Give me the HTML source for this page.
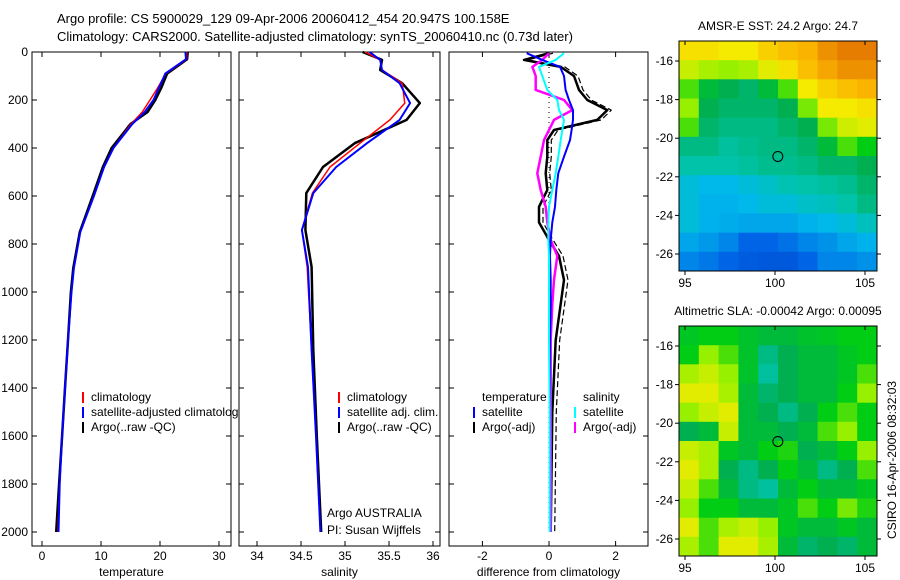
<!DOCTYPE html>
<html><head><meta charset="utf-8"><style>
body{margin:0;background:#fff;}
svg{display:block;font-family:"Liberation Sans",sans-serif;}
</style></head><body>
<svg id="c" width="900" height="580" xmlns="http://www.w3.org/2000/svg"></svg>
<script>
// ---- data ----
const tempDepths=[0,30,90,150,200,250,300,400,480,600,750,900,1000,1200,1400,1600,1800,2000];
const tempClim=[24.5,24.5,21.0,19.6,18.3,17.0,15.1,12.1,10.5,8.8,6.5,5.4,5.0,4.4,3.9,3.4,3.0,2.7];
const tempSat=[24.3,24.4,20.9,19.8,18.9,17.4,15.3,12.1,10.5,8.8,6.5,5.4,5.0,4.4,3.9,3.4,3.0,2.8];
const tempArgo=[24.7,24.6,21.2,20.2,19.2,17.9,15.0,11.8,10.3,8.6,6.4,5.3,4.9,4.4,3.9,3.4,2.9,2.4];
const salDepths=[0,33,75,130,213,283,380,479,588,742,896,1242,1600,2000];
const salClim=[35.23,35.40,35.42,35.65,35.68,35.51,35.17,34.83,34.63,34.51,34.57,34.62,34.67,34.72];
const salSat=[35.28,35.40,35.42,35.62,35.74,35.62,35.25,34.90,34.64,34.51,34.58,34.62,34.67,34.72];
const salArgo=[35.20,35.42,35.40,35.65,35.85,35.70,35.11,34.75,34.56,34.55,34.62,34.64,34.68,34.73];
const diffDepths=[5,33,62,100,158,200,242,283,325,367,436,505,575,645,710,783,850,950,1050,1200,1500,2000];
const dTempSat=[-0.67,-0.2,0.33,0.45,0.5,0.6,0.72,0.72,0.68,0.63,0.45,0.28,0.22,0.18,0.1,0.05,0.03,0.05,0.05,0.03,0.03,0.03];
const dTempArgo=[0.0,-0.75,0.35,0.75,0.9,1.15,1.75,1.45,0.15,-0.05,-0.05,-0.1,-0.05,-0.3,-0.3,0.0,0.3,0.45,0.35,0.2,0.1,0.05];
const dSalArgo=[0.0,-0.2,-0.5,-0.4,-0.4,0.45,0.7,0.15,0.0,-0.15,-0.25,-0.35,-0.25,-0.1,-0.05,0.05,0.25,0.15,0.1,0.05,0.05,0.05];
const dSalSat=[0.45,0.2,-0.3,-0.2,-0.05,0.25,0.3,0.45,0.4,0.35,0.28,0.2,0.1,0.0,-0.02,-0.02,0.0,0.0,0.0,0.0,0.02,0.02];
const depthTicks=[0,200,400,600,800,1000,1200,1400,1600,1800,2000];
const tempTicks=[0,10,20,30];
const salTicks=[34,34.5,35,35.5,36];
const salTickLabels=["34","34.5","35","35.5","36"];
const diffTicks=[-2,0,2];
const sstGrid=[
[0.72,0.72,0.7,0.7,0.75,0.78,0.8,0.85,0.88,0.88],
[0.65,0.62,0.6,0.62,0.68,0.72,0.78,0.82,0.85,0.85],
[0.55,0.45,0.42,0.4,0.45,0.55,0.7,0.75,0.78,0.8],
[0.6,0.42,0.4,0.4,0.4,0.42,0.58,0.7,0.7,0.72],
[0.55,0.4,0.38,0.38,0.38,0.4,0.42,0.58,0.66,0.68],
[0.38,0.38,0.36,0.37,0.38,0.38,0.4,0.45,0.55,0.5],
[0.35,0.35,0.35,0.36,0.37,0.37,0.38,0.4,0.4,0.42],
[0.3,0.28,0.28,0.3,0.32,0.34,0.35,0.36,0.37,0.4],
[0.3,0.27,0.27,0.28,0.3,0.3,0.32,0.33,0.35,0.38],
[0.3,0.27,0.26,0.25,0.25,0.25,0.27,0.28,0.3,0.33],
[0.25,0.23,0.2,0.15,0.15,0.17,0.2,0.22,0.25,0.27],
[0.2,0.18,0.15,0.13,0.12,0.12,0.15,0.2,0.2,0.22]];
const slaGrid=[
[0.48,0.5,0.5,0.47,0.45,0.45,0.47,0.48,0.5,0.5],
[0.5,0.6,0.55,0.47,0.38,0.42,0.45,0.45,0.48,0.5],
[0.62,0.65,0.6,0.47,0.36,0.42,0.45,0.45,0.48,0.55],
[0.68,0.68,0.62,0.45,0.4,0.42,0.45,0.45,0.5,0.6],
[0.6,0.65,0.68,0.45,0.42,0.38,0.42,0.5,0.55,0.5],
[0.42,0.45,0.65,0.45,0.45,0.42,0.45,0.55,0.6,0.5],
[0.65,0.62,0.48,0.45,0.5,0.52,0.42,0.45,0.5,0.6],
[0.68,0.62,0.42,0.38,0.42,0.5,0.45,0.38,0.42,0.55],
[0.65,0.55,0.45,0.38,0.36,0.45,0.5,0.45,0.45,0.48],
[0.6,0.5,0.5,0.45,0.45,0.48,0.55,0.5,0.58,0.52],
[0.68,0.55,0.62,0.65,0.6,0.48,0.45,0.45,0.48,0.45],
[0.62,0.55,0.68,0.68,0.62,0.45,0.4,0.42,0.4,0.45]];
const lonTicks=[95,100,105];
const latTicks=[-16,-18,-20,-22,-24,-26];
const argoLon=100.158, argoLat=-20.947;

// ---- helpers ----
const S=document.getElementById('c');
const NS='http://www.w3.org/2000/svg';
function mk(tag,attrs,parent){const e=document.createElementNS(NS,tag);for(const k in attrs)e.setAttribute(k,attrs[k]);(parent||S).appendChild(e);return e;}
function txt(x,y,s,anchor,size,parent){const t=mk('text',{x:x,y:y,'text-anchor':anchor||'start','font-size':size||12,fill:'#000'},parent);t.textContent=s;return t;}
const TOP=52,BOT=546;
function yD(d){return 52+d*0.24;}

let t=txt(57,23,'Argo profile: CS 5900029_129 09-Apr-2006 20060412_454 20.947S 100.158E','start',13);


t=txt(57,41,'Climatology: CARS2000. Satellite-adjusted climatology: synTS_20060410.nc (0.73d later)','start',13);



function panel(name,x0,x1,xs,ticks,labels,xtitle,leftLabels){
  const g=mk('g',{});
  
  
  mk('rect',{x:x0,y:TOP,width:x1-x0,height:BOT-TOP,fill:'#fff',stroke:'#000','stroke-width':1},g);
  ticks.forEach((v,i)=>{const x=xs(v);
    mk('line',{x1:x,y1:TOP,x2:x,y2:TOP+5,stroke:'#000'},g);
    mk('line',{x1:x,y1:BOT,x2:x,y2:BOT-5,stroke:'#000'},g);
    const l=txt(x,560,labels[i],'middle',12,g);
    
    });
  depthTicks.forEach(d=>{const y=yD(d);
    mk('line',{x1:x0,y1:y,x2:x0+5,y2:y,stroke:'#000'},g);
    mk('line',{x1:x1,y1:y,x2:x1-5,y2:y,stroke:'#000'},g);
    if(leftLabels){const l=txt(x0-4,y+4,String(d),'end',12,g);
      
      }});
  const tt=txt((x0+x1)/2,576,xtitle,'middle',12,g);
  
  
  return g;
}
function line(g,name,depths,vals,xs,color,w,dash,off){
  const o=off||0;
  const pts=depths.map((d,i)=>(xs(vals[i])+o).toFixed(1)+','+yD(d).toFixed(1)).join(' ');
  const p=mk('polyline',{points:pts,fill:'none',stroke:color,'stroke-width':w,'stroke-linejoin':'round'},g);
  if(dash)p.setAttribute('stroke-dasharray',dash);
  
  
  return p;
}
function legend(g,x,y,color,label){
  if(color)mk('rect',{x:x,y:y-9,width:2,height:11,fill:color},g);
  const l=txt(x+9,y,label,'start',12,g);
  
  
}

const xT=v=>42+v*5.9;
let g=panel('temperature-panel',32,231,xT,tempTicks,tempTicks.map(String),'temperature',true);
line(g,'temp-argo-line',tempDepths,tempArgo,xT,'#000',2.5);
line(g,'temp-climatology-line',tempDepths,tempClim,xT,'#f00',1.5);
line(g,'temp-satellite-line',tempDepths,tempSat,xT,'#00f',2);
legend(g,82,401,'#f00','climatology');
legend(g,82,416,'#00f','satellite-adjusted climatology');
legend(g,82,431,'#000','Argo(..raw -QC)');

const xS=v=>257+(v-34)*88;
g=panel('salinity-panel',239,440,xS,salTicks,salTickLabels,'salinity',false);
line(g,'sal-argo-line',salDepths,salArgo,xS,'#000',2.5);
line(g,'sal-climatology-line',salDepths,salClim,xS,'#f00',1.5);
line(g,'sal-satellite-line',salDepths,salSat,xS,'#00f',2);
legend(g,338,401,'#f00','climatology');
legend(g,338,416,'#00f','satellite adj. clim.');
legend(g,338,431,'#000','Argo(..raw -QC)');
t=txt(327,517,'Argo AUSTRALIA','start',12,g);


t=txt(327,534,'PI: Susan Wijffels','start',12,g);



const xDf=v=>549+v*33.3;
g=panel('difference-panel',449,648,xDf,diffTicks,diffTicks.map(String),'difference from climatology',false);
mk('line',{x1:549,y1:TOP,x2:549,y2:BOT-15,stroke:'#000','stroke-dasharray':'1,4'},g);
line(g,'diff-temp-argo-line',diffDepths,dTempArgo,xDf,'#000',2.5);
line(g,'diff-temp-argo-adj-line',diffDepths,dTempArgo,xDf,'#000',1.2,'6,3',4);
line(g,'diff-sal-argo-line',diffDepths,dSalArgo,xDf,'#f0f',2.5);
line(g,'diff-temp-sat-line',diffDepths,dTempSat,xDf,'#00f',2);
line(g,'diff-sal-sat-line',diffDepths,dSalSat,xDf,'#0ff',2);
legend(g,473,401,null,'temperature');
legend(g,473,416,'#00f','satellite');
legend(g,473,431,'#000','Argo(-adj)');
legend(g,574,401,null,'salinity');
legend(g,574,416,'#0ff','satellite');
legend(g,574,431,'#f0f','Argo(-adj)');

const cstops=[[0,[0,40,170]],[0.15,[0,100,230]],[0.28,[0,185,235]],[0.35,[0,195,170]],[0.42,[0,175,80]],[0.5,[0,205,20]],[0.6,[150,240,0]],[0.7,[245,235,0]],[0.8,[250,180,0]],[0.9,[225,110,0]],[1,[200,60,0]]];
function cmap(v){for(let i=1;i<cstops.length;i++){if(v<=cstops[i][0]){const a=cstops[i-1],b=cstops[i],f=(v-a[0])/(b[0]-a[0]);
  return 'rgb('+a[1].map((c,k)=>Math.round(c+(b[1][k]-c)*f)).join(',')+')';}}return 'rgb(200,60,0)';}
function mapPanel(name,top,bot,grid,title){
  const L=679,R=877;
  const lonX=lo=>685+(lo-95)*18;
  const latY=la=>(top+20)+(-16-la)*19.3;
  const g=mk('g',{});
  
  
  const rows=grid.length,cols=grid[0].length;
  const lon0=(L-685)/18+95,lon1=(R-685)/18+95;
  const lat0=-16+20/19.3, lat1=-16-(bot-top-20)/19.3;
  for(let r=0;r<rows;r++)for(let c=0;c<cols;c++){
    const loA=lon0+(lon1-lon0)*c/cols, loB=lon0+(lon1-lon0)*(c+1)/cols;
    const laA=lat0+(lat1-lat0)*r/rows, laB=lat0+(lat1-lat0)*(r+1)/rows;
    const x=lonX(loA),y=latY(laA);
    const cell=mk('rect',{x:x.toFixed(1),y:y.toFixed(1),width:(lonX(loB)-x+0.5).toFixed(1),height:(latY(laB)-y+0.5).toFixed(1),fill:cmap(grid[r][c])},g);
    
    
  }
  mk('rect',{x:L,y:top,width:R-L,height:bot-top,fill:'none',stroke:'#000'},g);
  lonTicks.forEach(lo=>{const x=lonX(lo);
    mk('line',{x1:x,y1:top,x2:x,y2:top+4,stroke:'#000'},g);
    mk('line',{x1:x,y1:bot,x2:x,y2:bot+4,stroke:'#000'},g);
    const l=txt(x,bot+16,String(lo),'middle',12,g);
    
    });
  latTicks.forEach(la=>{const y=latY(la);
    mk('line',{x1:L-4,y1:y,x2:L,y2:y,stroke:'#000'},g);
    mk('line',{x1:R,y1:y,x2:R+4,y2:y,stroke:'#000'},g);
    const l=txt(L-6,y+4,String(la),'end',12,g);
    
    });
  const m=mk('circle',{cx:lonX(argoLon),cy:latY(argoLat),r:5,fill:'none',stroke:'#000','stroke-width':1},g);
  
  
  const tt=txt((L+R)/2,top-11,title,'middle',12,g);
  
  
}
mapPanel('sst-map',41,271,sstGrid,'AMSR-E SST: 24.2 Argo: 24.7');
mapPanel('sla-map',326,556,slaGrid,'Altimetric SLA: -0.00042 Argo: 0.00095');
t=txt(0,0,'CSIRO 16-Apr-2006 08:32:03','middle',12);
t.setAttribute('transform','translate(896,460) rotate(-90)');


</script>
</body></html>
